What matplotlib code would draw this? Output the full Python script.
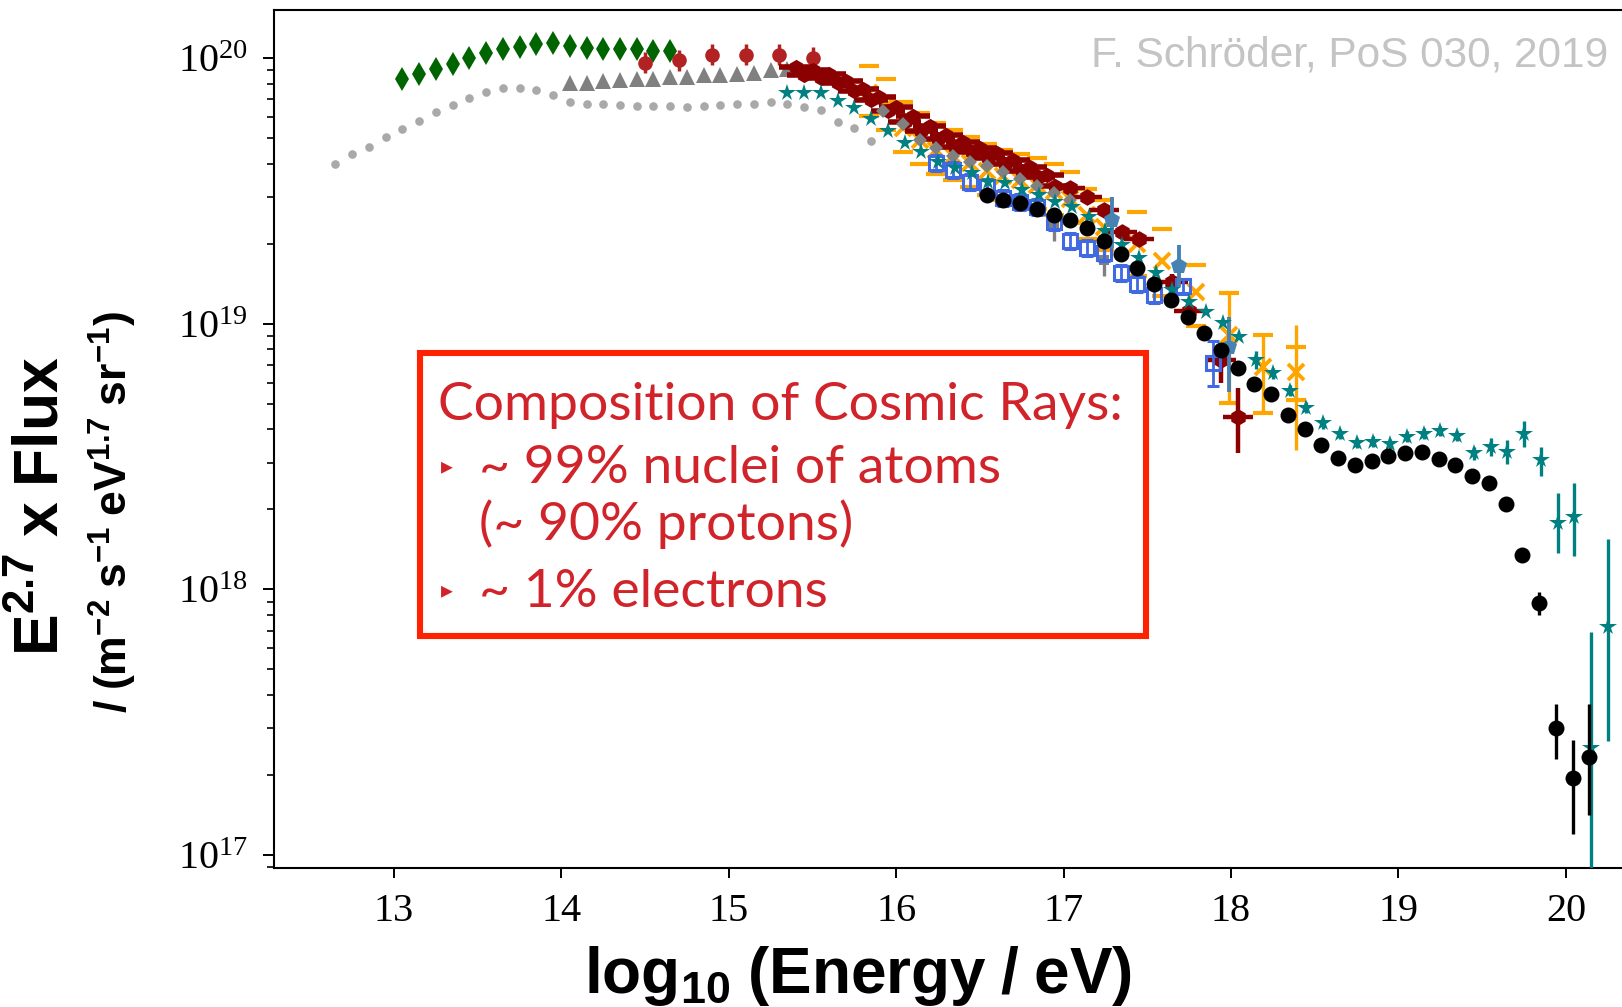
import numpy as np
import matplotlib
matplotlib.use("Agg")
import matplotlib.pyplot as plt
from matplotlib.patches import Rectangle
from matplotlib.ticker import LogLocator, NullFormatter, FixedLocator

plt.rcParams['font.family'] = ['Liberation Serif', 'DejaVu Serif']
plt.rcParams['mathtext.fontset'] = 'custom'
plt.rcParams['mathtext.rm'] = 'Liberation Serif'
plt.rcParams['mathtext.it'] = 'Liberation Serif:italic'
plt.rcParams['mathtext.bf'] = 'Liberation Sans:bold'

# ---------------------------------------------------------------------------
# Cosmic-ray all-particle spectrum: log10(E/eV) vs E^2.7 * flux
# ---------------------------------------------------------------------------

# direct measurements (dark green diamonds)
green_x = [13.05, 13.15, 13.25, 13.35, 13.45, 13.55, 13.65, 13.75, 13.85,
           13.95, 14.05, 14.15, 14.25, 14.35, 14.45, 14.55, 14.65]
green_y = [8.32e19, 8.69e19, 9.10e19, 9.53e19, 9.98e19, 1.04e20, 1.08e20,
           1.10e20, 1.13e20, 1.135e20, 1.11e20, 1.09e20, 1.08e20, 1.08e20,
           1.08e20, 1.06e20, 1.06e20]

# light grey dotted model curve
dotted_x = [12.65, 12.75, 12.85, 12.95, 13.05, 13.15, 13.25, 13.35, 13.45,
            13.55, 13.65, 13.75, 13.85, 13.95, 14.05, 14.15, 14.25, 14.35,
            14.45, 14.55, 14.65, 14.75, 14.85, 14.95, 15.05, 15.15, 15.25,
            15.35, 15.45, 15.55, 15.65, 15.75, 15.85]
dotted_y = [3.98e19, 4.36e19, 4.62e19, 5.04e19, 5.41e19, 5.81e19, 6.25e19,
            6.67e19, 7.05e19, 7.45e19, 7.73e19, 7.69e19, 7.59e19, 7.26e19,
            6.85e19, 6.71e19, 6.71e19, 6.65e19, 6.61e19, 6.59e19, 6.58e19,
            6.56e19, 6.59e19, 6.64e19, 6.70e19, 6.71e19, 6.81e19, 6.71e19,
            6.52e19, 6.37e19, 5.75e19, 5.47e19, 4.88e19]

# grey triangles
tri_x = [14.05, 14.15, 14.25, 14.35, 14.45, 14.55, 14.65, 14.75, 14.85,
         14.95, 15.05, 15.15, 15.25, 15.35]
tri_y = [8.04e19, 8.07e19, 8.22e19, 8.26e19, 8.32e19, 8.36e19, 8.45e19,
         8.51e19, 8.63e19, 8.63e19, 8.69e19, 8.75e19, 9.02e19, 9.06e19]

# firebrick circles (uncertainties in dex)
fb_x = [14.5, 14.7, 14.9, 15.1, 15.3, 15.5]
fb_y = [9.6e19, 9.8e19, 1.03e20, 1.03e20, 1.03e20, 1.0e20]
fb_dlog = [0.04, 0.04, 0.04, 0.04, 0.04, 0.04]

# dark red air-shower band (two overlapping data sets)
dr_x = [15.4, 15.5, 15.6, 15.7, 15.8, 15.9, 16.0, 16.1, 16.2, 16.3, 16.4,
        16.5, 16.6, 16.7, 16.8, 16.9]
dr_y = [9.23e19, 9.02e19, 8.71e19, 8.22e19, 7.67e19, 7.16e19, 6.53e19,
        6.03e19, 5.56e19, 5.15e19, 4.84e19, 4.59e19, 4.37e19, 4.13e19,
        3.89e19, 3.63e19]
dr2_x = [15.45, 15.55, 15.65, 15.75, 15.85, 15.95, 16.05, 16.15, 16.25,
         16.35, 16.45, 16.55, 16.65, 16.75, 16.85, 16.95]
dr2_y = [8.61e19, 8.41e19, 8.04e19, 7.50e19, 6.92e19, 6.31e19, 5.75e19,
         5.31e19, 4.95e19, 4.62e19, 4.42e19, 4.22e19, 3.98e19, 3.76e19,
         3.55e19, 3.31e19]

# dark red hexagons
hex_x = [17.04, 17.14, 17.24, 17.35, 17.45, 17.65, 17.75, 17.94, 18.04]
hex_y = [3.24e19, 3.01e19, 2.68e19, 2.22e19, 2.09e19, 1.44e19, 1.12e19,
         7.29e18, 4.47e18]
hex_lo = [0.02, 0.02, 0.02, 0.02, 0.02, 0.03, 0.03, 0.087, 0.138]
hex_hi = [0.02, 0.02, 0.02, 0.02, 0.02, 0.03, 0.03, 0.063, 0.108]

# orange crosses with systematic bounds (dex below / above)
or_x = [15.84, 15.94, 16.04, 16.14, 16.24, 16.34, 16.44, 16.54, 16.64,
        16.74, 16.84, 16.94, 17.04, 17.14, 17.24, 17.44, 17.59, 17.79,
        17.99, 18.19, 18.39]
or_y = [7.41e19, 6.61e19, 5.43e19, 4.91e19, 4.51e19, 4.26e19, 4.02e19,
        3.76e19, 3.59e19, 3.47e19, 3.33e19, 3.16e19, 2.95e19, 2.56e19,
        2.32e19, 2.00e19, 1.72e19, 1.32e19, 9.06e18, 6.89e18, 6.59e18]
or_lo = [0.09, 0.09, 0.09, 0.09, 0.09, 0.09, 0.09, 0.09, 0.09, 0.09, 0.09,
         0.09, 0.09, 0.09, 0.09, 0.12, 0.13, 0.13, 0.257, 0.175, 0.106]
or_hi = [0.10, 0.10, 0.10, 0.10, 0.10, 0.10, 0.10, 0.10, 0.10, 0.10, 0.10,
         0.10, 0.10, 0.10, 0.10, 0.118, 0.12, 0.10, 0.157, 0.12, 0.092]
# the highest-energy orange points also carry a full vertical error bar
or_bar_x = [17.99, 18.19, 18.39]
or_bar_y = [9.06e18, 6.89e18, 6.59e18]
or_bar_lo = [0.257, 0.175, 0.294]
or_bar_hi = [0.157, 0.12, 0.176]

# teal stars
teal_x = [15.35, 15.45, 15.55, 15.65, 15.75, 15.85, 15.95, 16.05, 16.15,
          16.25, 16.35, 16.45, 16.55, 16.65, 16.75, 16.85, 16.95, 17.05,
          17.15, 17.25, 17.35, 17.45, 17.55, 17.65, 17.75, 17.85, 17.95,
          18.05, 18.15, 18.25, 18.35, 18.45, 18.55, 18.65, 18.75, 18.85,
          18.95, 19.05, 19.15, 19.25, 19.35, 19.45, 19.55, 19.65, 19.75,
          19.85, 19.95, 20.05, 20.15, 20.25]
teal_y = [7.40e19, 7.40e19, 7.40e19, 6.89e19, 6.50e19, 5.87e19, 5.31e19,
          4.80e19, 4.43e19, 4.07e19, 3.86e19, 3.69e19, 3.42e19, 3.37e19,
          3.18e19, 3.05e19, 2.88e19, 2.75e19, 2.51e19, 2.24e19, 1.98e19,
          1.76e19, 1.55e19, 1.34e19, 1.21e19, 1.11e19, 1.01e19, 8.89e18,
          7.29e18, 6.50e18, 5.60e18, 4.83e18, 4.22e18, 3.84e18, 3.55e18,
          3.60e18, 3.52e18, 3.76e18, 3.85e18, 3.95e18, 3.78e18, 3.25e18,
          3.43e18, 3.30e18, 3.85e18, 3.07e18, 1.78e18, 1.88e18, 2.54e17,
          7.24e17]
teal_lo = [0] * 28 + [0.035, 0.02, 0.02, 0.02, 0.02, 0.02, 0.02, 0.02,
                      0.02, 0.02, 0.02, 0.02, 0.02, 0.025, 0.035, 0.045,
                      0.05, 0.06, 0.113, 0.148, 0.6, 0.431]
teal_hi = [0] * 28 + [0.035, 0.02, 0.02, 0.02, 0.02, 0.02, 0.02, 0.02,
                      0.02, 0.02, 0.02, 0.02, 0.02, 0.025, 0.035, 0.045,
                      0.05, 0.05, 0.111, 0.128, 0.433, 0.329]

# black circles
blk_x = [16.54, 16.64, 16.74, 16.84, 16.94, 17.04, 17.14, 17.24, 17.34,
         17.44, 17.54, 17.64, 17.74, 17.84, 17.94, 18.04, 18.14, 18.24,
         18.34, 18.44, 18.54, 18.64, 18.74, 18.84, 18.94, 19.04, 19.14,
         19.24, 19.34, 19.44, 19.54, 19.64, 19.74, 19.84, 19.94, 20.04,
         20.14]
blk_y = [3.05e19, 2.92e19, 2.85e19, 2.69e19, 2.56e19, 2.45e19, 2.29e19,
         2.05e19, 1.83e19, 1.62e19, 1.41e19, 1.23e19, 1.06e19, 9.20e18,
         7.96e18, 6.79e18, 5.93e18, 5.43e18, 4.53e18, 4.01e18, 3.49e18,
         3.11e18, 2.94e18, 3.05e18, 3.18e18, 3.27e18, 3.29e18, 3.10e18,
         2.94e18, 2.67e18, 2.51e18, 2.09e18, 1.35e18, 8.91e17, 3.02e17,
         1.95e17, 2.34e17]
blk_lo = [0] * 33 + [0.046, 0.119, 0.212, 0.219]
blk_hi = [0] * 33 + [0.041, 0.089, 0.142, 0.199]

# open blue squares
bl_x = [16.24, 16.34, 16.44, 16.54, 16.64, 16.74, 16.84, 16.94, 17.04,
        17.14, 17.24, 17.34, 17.44, 17.54, 17.71, 17.89]
bl_y = [4.04e19, 3.78e19, 3.40e19, 3.28e19, 2.96e19, 2.88e19, 2.75e19,
        2.42e19, 2.04e19, 1.92e19, 1.84e19, 1.55e19, 1.41e19, 1.28e19,
        1.38e19, 7.10e18]
bl_dlog = [0.03] * 15 + [0.085]

# steel blue pentagons
sb_x = [17.29, 17.69, 17.99]
sb_y = [2.45e19, 1.65e19, 8.18e18]
sb_lo = [0.106, 0.078, 0.169]
sb_hi = [0.088, 0.079, 0.113]

# grey diamonds and grey points with uncertainties
gd_x = [15.92, 16.04, 16.14, 16.24, 16.34, 16.44, 16.54, 16.64, 16.74,
        16.84, 16.94, 17.04]
gd_y = [6.31e19, 5.65e19, 4.91e19, 4.57e19, 4.26e19, 4.07e19, 3.92e19,
        3.72e19, 3.50e19, 3.31e19, 3.09e19, 2.92e19]
ge_x = [16.94, 17.24]
ge_y = [2.36e19, 1.74e19]
ge_dlog = [0.06, 0.06]

x_ticks = [13, 14, 15, 16, 17, 18, 19, 20]
y_ticks = [1e17, 1e18, 1e19, 1e20]

box_lines = ["Composition of Cosmic Rays:",
             "~ 99% nuclei of atoms",
             "(~ 90% protons)",
             "~ 1% electrons"]


def dex_err(y, lo, hi):
    """Convert asymmetric log10 uncertainties into absolute error bars."""
    y = np.asarray(y, float)
    lo = np.asarray(lo, float)
    hi = np.asarray(hi, float)
    return [y - y / 10 ** lo, y * 10 ** hi - y]


W, H = 1622, 1007
fig = plt.figure(figsize=(W / 100, H / 100), dpi=100)
ax = fig.add_axes([274.3 / W, 1 - 868 / H, (1632 - 274.3) / W, (868 - 10.1) / H])
ax.set_yscale('log')
ax.set_xlim(12.285, 20.395)
ax.set_ylim(8.94e16, 1.514e20)

# --- data ---
ax.plot(dotted_x, dotted_y, 'o', color='#a9a9a9', ms=6.2, mew=0, zorder=2)
ax.plot(green_x, green_y, 'd', color='#006400', ms=12.5, mew=0, zorder=3)
ax.plot(tri_x, tri_y, '^', color='#808080', ms=12, mew=0, zorder=3)
ax.errorbar(fb_x, fb_y, yerr=dex_err(fb_y, fb_dlog, fb_dlog), fmt='o',
            color='#b22222', ms=10.5, mew=0, elinewidth=2.5, capsize=9,
            capthick=3.5, zorder=4)

# orange: crosses, bound markers, and full bars at the high-energy end
or_arr = np.asarray(or_y)
or_up = or_arr * 10 ** np.asarray(or_hi)
or_dn = or_arr / 10 ** np.asarray(or_lo)
ax.errorbar(or_bar_x, or_bar_y, yerr=dex_err(or_bar_y, or_bar_lo, or_bar_hi),
            fmt='none', ecolor='#ffa500', elinewidth=2.4, zorder=5)
ax.plot(or_x, or_up, '_', color='#ffa500', ms=15, mew=3, zorder=5)
ax.plot(or_x, or_dn, '_', color='#ffa500', ms=15, mew=3, zorder=5)
ax.plot(or_x, or_y, 'x', color='#ffa500', ms=11, mew=2.8, zorder=5)

ax.errorbar(dr2_x, dr2_y, xerr=0.1, fmt='h', color='#8b0000', ms=11,
            mew=0, elinewidth=4, zorder=6)
ax.errorbar(dr_x, dr_y, xerr=0.1, fmt='h', color='#8b0000', ms=11,
            mew=0, elinewidth=4, zorder=6)
ax.errorbar(hex_x, hex_y, xerr=0.09, yerr=dex_err(hex_y, hex_lo, hex_hi),
            fmt='h', color='#8b0000', ms=12, mew=0, elinewidth=3.2,
            capsize=8, capthick=3, zorder=6)
ax.plot(gd_x, gd_y, 'D', color='#808080', ms=7, mew=0, zorder=7)
ax.errorbar(ge_x, ge_y, yerr=dex_err(ge_y, ge_dlog, ge_dlog), fmt='s',
            color='#808080', ms=7, mew=0, elinewidth=2.4, zorder=7)
ax.errorbar(bl_x, bl_y, yerr=dex_err(bl_y, bl_dlog, bl_dlog), fmt='s',
            mfc='none', mec='#4169e1', ecolor='#4169e1', ms=10.5, mew=2.2,
            elinewidth=2, capsize=4.5, capthick=2, zorder=8)
ax.errorbar(teal_x, teal_y, yerr=dex_err(teal_y, teal_lo, teal_hi), fmt='*',
            color='#008080', ms=13, mew=0, elinewidth=2.4, zorder=9)
ax.errorbar(sb_x, sb_y, yerr=dex_err(sb_y, sb_lo, sb_hi), fmt='p',
            color='#4682b4', ms=12, mew=0, elinewidth=2.8, zorder=9)
ax.errorbar(blk_x, blk_y, yerr=dex_err(blk_y, blk_lo, blk_hi), fmt='o',
            color='black', ms=11.5, mew=0, elinewidth=2.4, zorder=10)

# --- axes styling ---
for side in ('left', 'bottom', 'top', 'right'):
    ax.spines[side].set_linewidth(1.5)
ax.xaxis.set_major_locator(FixedLocator(x_ticks))
ax.set_xticklabels([str(t) for t in x_ticks])
ax.yaxis.set_major_locator(FixedLocator(y_ticks))
ax.yaxis.set_minor_locator(LogLocator(base=10, subs=np.arange(2, 10)))
ax.yaxis.set_minor_formatter(NullFormatter())
ax.tick_params(axis='x', which='major', direction='out', length=7, width=1.4,
               labelsize=29, pad=11, top=False)
ax.tick_params(axis='y', which='major', direction='out', length=8, width=1.4,
               labelsize=29, pad=11, right=False)
ax.tick_params(axis='y', which='minor', direction='out', length=5, width=1.2,
               right=False)

# --- axis titles ---
fig.text(858 / W, 1 - 993 / H, r'$\mathbf{log_{10}\ (Energy\ /\ eV)}$',
         ha='center', va='baseline', fontsize=46)
fig.text(43 / W, 1 - 506 / H, r'$\mathbf{E^{2.7}\ x\ Flux}$', rotation=90,
         ha='center', va='center', fontsize=45)
fig.text(113 / W, 1 - 512 / H,
         r'$\mathbf{/\ (m^{-2}\ s^{-1}\ eV^{1.7}\ sr^{-1})}$', rotation=90,
         ha='center', va='center', fontsize=32)

# --- credit ---
fig.text(1608 / W, 1 - 66.7 / H, 'F. Schröder, PoS 030, 2019',
         family='Liberation Sans', color='#c4c4c4', fontsize=30.5,
         ha='right', va='baseline')

# --- annotation box ---
box = Rectangle((420 / W, 1 - 636 / H), 726 / W, 283 / H,
                transform=fig.transFigure, facecolor='white',
                edgecolor='#ff2200', linewidth=4.4, zorder=20)
fig.add_artist(box)
red = '#d1232a'
tkw = dict(family=['Lato', 'DejaVu Sans'], color=red, fontsize=38.5,
           va='baseline', ha='left', zorder=21)
fig.text(438 / W, 1 - 420 / H, box_lines[0], **tkw)
fig.text(479 / W, 1 - 483 / H, box_lines[1], **tkw)
fig.text(479 / W, 1 - 540 / H, box_lines[2], **tkw)
fig.text(479 / W, 1 - 606.7 / H, box_lines[3], **tkw)
for yb in (466.7, 590.0):
    fig.text(447 / W, 1 - yb / H, '\u25B8', family='DejaVu Sans', color=red,
             fontsize=17, ha='center', va='center', zorder=21)

fig.savefig('out.png', dpi=100)
